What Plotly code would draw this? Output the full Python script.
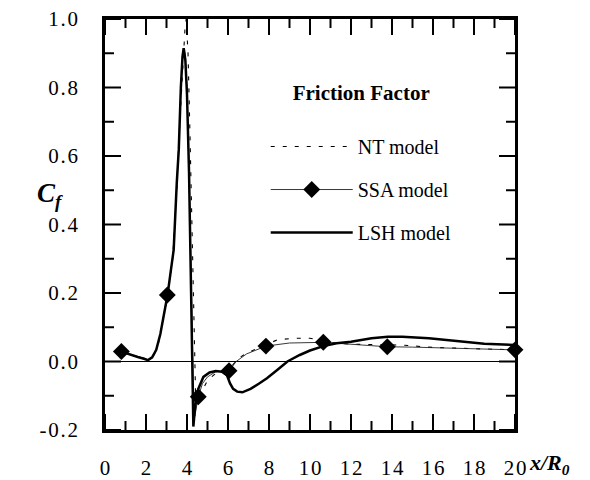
import plotly.graph_objects as go

# ---------------- data ----------------
lsh_x = [0.8, 1.2, 1.6, 1.9, 2.1, 2.3, 2.5, 2.7, 2.85, 3.05, 3.2, 3.35, 3.5, 3.6, 3.7, 3.78, 3.84, 3.92,
         4.0, 4.1, 4.2, 4.26, 4.31, 4.4, 4.55, 4.8, 5.1, 5.4, 5.7, 5.95, 6.1, 6.25, 6.45, 6.7, 7.1, 7.5,
         7.9, 8.4, 8.9, 9.5, 10.0, 10.65, 11.3, 12.0, 13.0, 13.8, 14.5, 15.8, 17.0, 18.5, 20.0]
lsh_y = [0.029, 0.02, 0.013, 0.008, 0.004, 0.012, 0.034, 0.08, 0.131, 0.194, 0.26, 0.326, 0.52, 0.62, 0.8,
         0.89, 0.915, 0.88, 0.78, 0.55, 0.2, -0.05, -0.19, -0.13, -0.08, -0.045, -0.032, -0.028, -0.03,
         -0.04, -0.064, -0.08, -0.088, -0.09, -0.08, -0.065, -0.049, -0.025, 0.0, 0.019, 0.032, 0.045,
         0.053, 0.058, 0.068, 0.072, 0.072, 0.068, 0.06, 0.052, 0.048]

ssa_x = [0.8, 1.2, 1.6, 1.9, 2.1, 2.3, 2.5, 2.7, 2.85, 3.04, 3.2, 3.35, 3.5, 3.6, 3.7, 3.78, 3.82, 3.9,
         4.0, 4.1, 4.2, 4.3, 4.38, 4.45, 4.55, 4.75, 5.0, 5.4, 5.8, 6.05, 6.4, 6.9, 7.85, 9.0, 10.65,
         12.0, 13.77, 15.0, 16.5, 18.2, 20.0]
ssa_y = [0.029, 0.02, 0.014, 0.01, 0.004, 0.01, 0.034, 0.08, 0.131, 0.194, 0.26, 0.33, 0.52, 0.63, 0.8,
         0.88, 0.915, 0.9, 0.8, 0.55, 0.25, -0.05, -0.16, -0.14, -0.103, -0.065, -0.045, -0.03, -0.027,
         -0.027, 0.0, 0.022, 0.045, 0.054, 0.056, 0.05, 0.043, 0.042, 0.039, 0.036, 0.034]
ssa_diamond_x = [0.8, 3.04, 4.55, 6.05, 7.85, 10.65, 13.77, 20.0]
ssa_diamond_y = [0.029, 0.194, -0.103, -0.027, 0.045, 0.056, 0.043, 0.034]

nt_x = [0.8, 1.2, 1.6, 2.0, 2.15, 2.4, 2.6, 2.85, 3.05, 3.3, 3.5, 3.65, 3.8, 3.9, 3.96, 4.05, 4.15, 4.25,
        4.35, 4.42, 4.5, 4.7, 5.0, 5.4, 5.8, 6.1, 6.5, 6.9, 7.5, 8.4, 9.2, 10.0, 10.8, 11.5, 12.5, 14.5,
        16.0, 18.2, 20.0]
nt_y = [0.029, 0.02, 0.013, 0.006, 0.004, 0.02, 0.05, 0.13, 0.19, 0.3, 0.5, 0.7, 0.88, 0.97, 1.0, 0.9,
        0.65, 0.35, 0.05, -0.1, -0.125, -0.09, -0.055, -0.035, -0.028, -0.02, 0.009, 0.024, 0.04, 0.063,
        0.068, 0.068, 0.058, 0.052, 0.05, 0.048, 0.041, 0.036, 0.034]

x_tick_vals = [0, 2, 4, 6, 8, 10, 12, 14, 16, 18, 20]
x_tick_labels = ["0", "2", "4", "6", "8", "10", "12", "14", "16", "18", "20"]
x_minor_vals = [1, 3, 5, 7, 9, 11, 13, 15, 17, 19]
y_tick_vals = [-0.2, 0.0, 0.2, 0.4, 0.6, 0.8, 1.0]
y_tick_labels = ["-0.2", "0.0", "0.2", "0.4", "0.6", "0.8", "1.0"]
y_minor_vals = [-0.1, 0.1, 0.3, 0.5, 0.7, 0.9]

series_names = ["NT model", "SSA model", "LSH model"]
legend_title = "Friction Factor"

# ---------------- figure ----------------
HS = "\u200a"  # hair space to mimic the letter-spaced typeface


def spaced(s):
    return HS.join(list(s))


def with_gaps(values):
    out = []
    for v in values:
        out += [v, None]
    return out


SERIF = "Liberation Serif, Times New Roman, serif"
MAJOR_LEN, MINOR_LEN, TICK_W = 16, 9, 2

fig = go.Figure()

fig.add_trace(go.Scatter(
    x=nt_x, y=nt_y, mode="lines", name=series_names[0], legendgroup="nt",
    line=dict(color="black", width=1.1, dash="4px,8px"),
))

fig.add_trace(go.Scatter(
    x=ssa_x, y=ssa_y, mode="lines", name=series_names[1], legendgroup="ssa", showlegend=False,
    line=dict(color="#222222", width=0.9),
))
fig.add_trace(go.Scatter(
    x=with_gaps(ssa_diamond_x), y=with_gaps(ssa_diamond_y), mode="lines+markers",
    name=series_names[1], legendgroup="ssa", connectgaps=False,
    line=dict(color="#222222", width=0.9),
    marker=dict(symbol="diamond", size=13, color="black"),
    cliponaxis=False,
))

fig.add_trace(go.Scatter(
    x=lsh_x, y=lsh_y, mode="lines", name=series_names[2], legendgroup="lsh",
    line=dict(color="black", width=2.5),
))

# inward tick marks on all four sides, placed through the axis scales
tick_shapes = []
for vals, length in ((x_tick_vals, MAJOR_LEN), (x_minor_vals, MINOR_LEN)):
    for v in vals:
        for anchor, sign in ((0, 1), (1, -1)):
            tick_shapes.append(dict(
                type="line", xref="x", yref="paper", x0=v, x1=v,
                ysizemode="pixel", yanchor=anchor, y0=0, y1=sign * length,
                line=dict(color="black", width=TICK_W), layer="above",
            ))
for vals, length in ((y_tick_vals, MAJOR_LEN), (y_minor_vals, MINOR_LEN)):
    for v in vals:
        for anchor, sign in ((0, 1), (1, -1)):
            tick_shapes.append(dict(
                type="line", xref="paper", yref="y", y0=v, y1=v,
                xsizemode="pixel", xanchor=anchor, x0=0, x1=sign * length,
                line=dict(color="black", width=TICK_W), layer="above",
            ))

tick_font = dict(family=SERIF, size=21, color="black")

fig.update_layout(
    template="none",
    # transparent outside ticks only push the labels away from the frame
    xaxis=dict(
        range=[0, 20], tickmode="array", tickvals=x_tick_vals,
        ticktext=[spaced(t) for t in x_tick_labels], tickfont=tick_font,
        ticks="outside", ticklen=17, tickcolor="rgba(0,0,0,0)",
        showline=True, linecolor="black", linewidth=2.5, mirror=True,
        showgrid=False, zeroline=False,
    ),
    yaxis=dict(
        range=[-0.2, 1.0], tickmode="array", tickvals=y_tick_vals,
        ticktext=[spaced(t) for t in y_tick_labels], tickfont=tick_font,
        ticks="outside", ticklen=20, tickcolor="rgba(0,0,0,0)",
        showline=True, linecolor="black", linewidth=2.5, mirror=True,
        showgrid=False, zeroline=True, zerolinecolor="black", zerolinewidth=1,
    ),
    shapes=tick_shapes,
)

fig.update_layout(
    width=590, height=480,
    margin=dict(l=105, r=75, t=19, b=50),
    paper_bgcolor="white", plot_bgcolor="white",
    font=dict(family=SERIF, color="black"),
    legend=dict(
        x=0.392, y=0.87, xanchor="left", yanchor="top",
        bgcolor="rgba(0,0,0,0)", borderwidth=0,
        font=dict(family=SERIF, size=20, color="black"),
        title=dict(text="<b>" + legend_title + "</b><br> ", side="top center",
                   font=dict(family=SERIF, size=21, color="black")),
        itemwidth=82, traceorder="grouped", tracegroupgap=14,
    ),
    annotations=[
        dict(text="<b><i>C</i></b><sub><b><i>f</i></b></sub>", xref="paper", yref="paper",
             x=-0.134, y=0.572, xanchor="center", yanchor="middle", showarrow=False,
             font=dict(family=SERIF, size=27, color="black")),
        dict(text="<b><i>x/R</i></b><sub><b><i>0</i></b></sub>", xref="paper", yref="paper",
             x=1.03, y=-0.083, xanchor="left", yanchor="middle", showarrow=False,
             font=dict(family=SERIF, size=22, color="black")),
    ],
)

fig.write_html("out.html")
